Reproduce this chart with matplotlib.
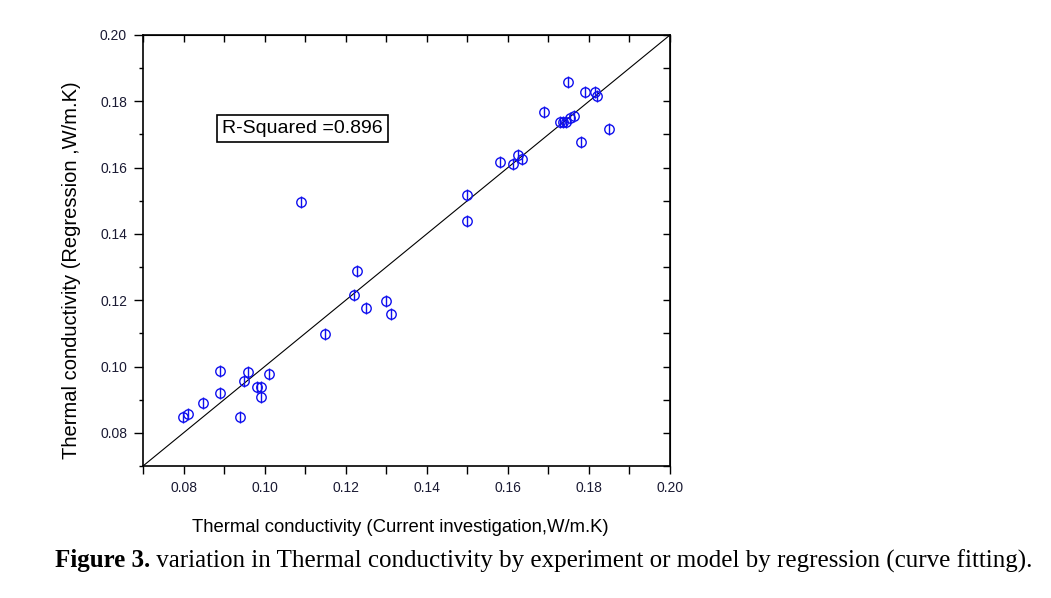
import matplotlib
matplotlib.use("Agg")
import matplotlib.pyplot as plt
import numpy as np

# Data
experiment = [0.0799, 0.0810, 0.0848, 0.0889, 0.0891, 0.0939, 0.0950, 0.0959,
              0.0981, 0.0992, 0.0990, 0.1011, 0.1090, 0.1149, 0.1220, 0.1229,
              0.1250, 0.1300, 0.1311, 0.1500, 0.1500, 0.1580, 0.1612, 0.1625,
              0.1634, 0.1690, 0.1729, 0.1737, 0.1744, 0.1753, 0.1763, 0.1749,
              0.1780, 0.1790, 0.1816, 0.1819, 0.1850]
regression = [0.0849, 0.0856, 0.0889, 0.0987, 0.0919, 0.0848, 0.0957, 0.0985,
              0.0939, 0.0939, 0.0909, 0.0977, 0.1497, 0.1098, 0.1217, 0.1288,
              0.1178, 0.1197, 0.1158, 0.1518, 0.1438, 0.1617, 0.1612, 0.1637,
              0.1627, 0.1767, 0.1737, 0.1737, 0.1737, 0.1751, 0.1756, 0.1857,
              0.1677, 0.1827, 0.1827, 0.1817, 0.1717]
diag = [0.07, 0.20]
major_ticks = [0.08, 0.10, 0.12, 0.14, 0.16, 0.18, 0.20]
minor_ticks = [0.07, 0.09, 0.11, 0.13, 0.15, 0.17, 0.19]
r2_text = "R-Squared =0.896"
xlabel = "Thermal conductivity (Current investigation,W/m.K)"
ylabel = "Thermal conductivity (Regression ,W/m.K)"
cap_bold = "Figure 3."
cap_rest = " variation in Thermal conductivity by experiment or model by regression (curve fitting)."

W, H = 1051, 598
fig = plt.figure(figsize=(W / 100, H / 100), dpi=100)
ax = fig.add_axes([143 / W, 1 - 466 / H, (670 - 143) / W, (466 - 35) / H])

blue = "#1010ee"
tickcol = "#1a1a33"
ax.plot(diag, diag, color="black", lw=0.8, zorder=2)
ax.plot(experiment, regression, linestyle="none", marker="o", markersize=6.8,
        markerfacecolor="none", markeredgecolor=blue, markeredgewidth=1.0, zorder=3)
ax.plot(experiment, regression, linestyle="none", marker="|", markersize=9,
        markeredgecolor=blue, markeredgewidth=1.0, zorder=3)

ax.set_xlim(0.07, 0.20)
ax.set_ylim(0.07, 0.20)
ax.set_xticks(major_ticks)
ax.set_yticks(major_ticks)
ax.set_xticks(minor_ticks, minor=True)
ax.set_yticks(minor_ticks, minor=True)
ax.set_xticklabels([f"{v:.2f}" for v in major_ticks])
ax.set_yticklabels([f"{v:.2f}" for v in major_ticks])
ax.tick_params(axis="x", which="both", direction="out", length=6, width=1,
               labelsize=10, pad=5, top=False, labelcolor=tickcol)
ax.tick_params(axis="y", which="major", direction="out", length=6.5, width=1,
               labelsize=10, pad=5, right=False, labelcolor=tickcol)
ax.tick_params(axis="y", which="minor", direction="out", length=3, width=1, right=False)
for lab in ax.get_xticklabels() + ax.get_yticklabels():
    lab.set_family("Liberation Sans")
for s in ax.spines.values():
    s.set_linewidth(1.2)

# inward ticks on the top and right
sec_x = ax.secondary_xaxis("top")
sec_x.set_xticks(major_ticks + minor_ticks)
sec_x.tick_params(direction="in", length=5, width=1, labeltop=False)
sec_y = ax.secondary_yaxis("right")
sec_y.set_yticks(major_ticks + minor_ticks)
sec_y.tick_params(direction="in", length=5, width=1, labelright=False)

ax.text(0.1093, 0.1717, r2_text, ha="center", va="center", fontsize=14,
        family="Liberation Sans",
        bbox=dict(boxstyle="square,pad=0.26", facecolor="white", edgecolor="black", lw=1.2))

fig.text(400 / W, 1 - 528 / H, xlabel, ha="center", va="center", fontsize=13.3,
         family="Liberation Sans")
fig.text(72 / W, 1 - 270 / H, ylabel, ha="center", va="center", rotation=90,
         fontsize=14.5, family="Liberation Sans")

t1 = fig.text(55 / W, 1 - 561 / H, cap_bold, ha="left", va="center", fontsize=18,
              family="Liberation Serif", fontweight="bold")
fig.canvas.draw()
bb = t1.get_window_extent()
fig.text(bb.x1 / W, 1 - 561 / H, cap_rest, ha="left", va="center", fontsize=18,
         family="Liberation Serif")

fig.savefig("out.png", dpi=100)
